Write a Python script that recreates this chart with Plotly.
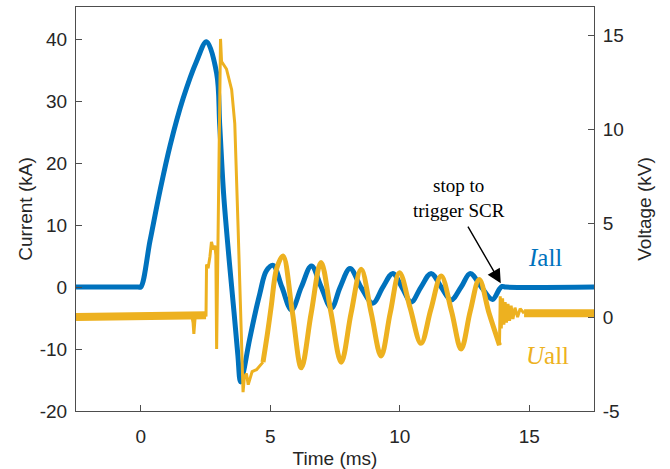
import plotly.graph_objects as go

# ---------------- data ----------------
# Current I_all (kA), left axis
i_time = [-2.5, -0.1, 0.0, 0.36, 0.74, 1.13, 1.64, 2.16, 2.54, 2.93, 3.05, 3.2, 3.4,
          3.6, 3.75, 3.85, 3.95, 4.2, 4.6, 4.85, 5.11, 5.45, 5.82, 6.2, 6.59, 6.97,
          7.36, 7.7, 8.08, 8.5, 8.96, 9.35, 9.73, 10.08, 10.44, 10.82, 11.21, 11.6,
          11.98, 12.37, 12.72, 13.15, 13.58, 13.85, 13.95, 14.1, 17.5]
i_vals = [0.0, 0.0, 0.0, 7.5, 15.5, 22.8, 30.5, 36.5, 39.6, 34.5, 26.0, 15.0, 5.0,
          -4.0, -11.0, -15.3, -14.0, -8.5, -1.0, 2.6, 3.5, 0.0, -3.7, 0.0, 3.4, 0.0,
          -3.4, 0.0, 3.0, 0.0, -2.6, 0.0, 2.2, 0.0, -2.4, 0.0, 2.2, 0.0,
          -2.1, 0.0, 2.2, 0.0, -2.0, -0.3, 0.1, 0.0, 0.0]

# Voltage U_all (kV), right axis -- noisy baseline before switching
u_base_time = [-2.5, 2.52]
u_base_vals = [0.0, 0.1]
# switching transient (incl. the small dip just before it)
u_pre_time = [1.98, 2.02, 2.05, 2.1, 2.52, 2.54, 2.6, 2.67, 2.73, 2.8, 2.86, 2.9,
              2.93, 3.08, 3.12, 3.31, 3.51, 3.63, 3.76, 3.89, 3.95, 4.0, 4.08, 4.15,
              4.21, 4.3, 4.47, 4.72]
u_pre_vals = [0.0, -0.3, -0.9, 0.0, 0.1, 2.8, 2.6, 3.2, 4.0, 3.6, 3.8, 3.3,
              -1.7, 14.8, 13.6, 13.2, 12.1, 10.3, 4.7, -1.5, -4.0, -3.2, -3.0, -3.6,
              -3.3, -2.9, -2.8, -2.4]
# oscillation part
u_osc_time = [4.72, 4.9, 5.04, 5.25, 5.49, 5.85, 6.2, 6.58, 6.96, 7.35, 7.74, 8.12,
              8.51, 8.9, 9.28, 9.63, 9.99, 10.4, 10.82, 11.2, 11.6, 12.0, 12.37,
              12.72, 13.07, 13.45, 13.85]
u_osc_vals = [-2.4, -0.8, 0.6, 2.6, 3.25, 0.3, -2.7, 0.2, 2.9, 0.2, -2.4, 0.2,
              2.54, 0.2, -2.07, 0.2, 2.36, 0.5, -1.4, 0.4, 2.18, 0.3, -1.7,
              0.3, 2.0, 0.2, -1.5]
# ringing after SCR trigger stops
u_ring_time = [13.85, 13.88, 13.92, 13.97, 14.02, 14.07, 14.12, 14.18, 14.24, 14.3,
               14.37, 14.45, 14.55, 14.65, 14.8]
u_ring_vals = [-1.5, 1.1, -0.6, 1.0, -0.4, 0.8, -0.3, 0.7, -0.2, 0.6,
               -0.1, 0.5, 0.0, 0.45, 0.2]
# baseline afterwards
u_tail_time = [14.8, 17.5]
u_tail_vals = [0.2, 0.2]

x_ticks = [0, 5, 10, 15]
x_labels = ["0", "5", "10", "15"]
y_left_ticks = [-20, -10, 0, 10, 20, 30, 40]
y_left_labels = ["-20", "-10", "0", "10", "20", "30", "40"]
y_right_ticks = [-5, 0, 5, 10, 15]
y_right_labels = ["-5", "0", "5", "10", "15"]

BLUE = "#0072BD"
ORANGE = "#EDB120"
AX = "#4d4d4d"
TXT = "#262626"
SANS = "Liberation Sans, Arial, sans-serif"
SERIF = "Liberation Serif, Times New Roman, serif"

fig = go.Figure()
fig.add_trace(go.Scatter(x=i_time, y=i_vals, mode="lines", yaxis="y",
                         line=dict(color=BLUE, width=5, shape="spline", smoothing=1.0),
                         showlegend=False))
fig.add_trace(go.Scatter(x=u_base_time, y=u_base_vals, mode="lines", yaxis="y2",
                         line=dict(color=ORANGE, width=8), showlegend=False))
fig.add_trace(go.Scatter(x=u_pre_time, y=u_pre_vals, mode="lines", yaxis="y2",
                         line=dict(color=ORANGE, width=3), showlegend=False))
fig.add_trace(go.Scatter(x=u_osc_time, y=u_osc_vals, mode="lines", yaxis="y2",
                         line=dict(color=ORANGE, width=5, shape="spline", smoothing=1.0),
                         showlegend=False))
fig.add_trace(go.Scatter(x=u_ring_time, y=u_ring_vals, mode="lines", yaxis="y2",
                         line=dict(color=ORANGE, width=3), showlegend=False))
fig.add_trace(go.Scatter(x=u_tail_time, y=u_tail_vals, mode="lines", yaxis="y2",
                         line=dict(color=ORANGE, width=8), showlegend=False))

axis_common = dict(showgrid=False, zeroline=False, showline=True, linecolor=AX,
                   linewidth=1, ticks="inside", ticklen=6, tickcolor=AX,
                   automargin=False,
                   tickfont=dict(family=SANS, size=19, color=TXT))

fig.update_layout(
    width=670, height=469,
    margin=dict(l=76, r=76, t=7, b=58),
    paper_bgcolor="white", plot_bgcolor="white",
    xaxis=dict(range=[-2.5, 17.5], tickvals=x_ticks, ticktext=x_labels, mirror=True,
               ticklabelstandoff=8,
               title=dict(text="Time (ms)", font=dict(family=SANS, size=19, color=TXT),
                          standoff=6),
               **axis_common),
    yaxis=dict(range=[-20, 45.2], tickvals=y_left_ticks, ticktext=y_left_labels,
               ticklabelstandoff=4,
               title=dict(text="Current (kA)", font=dict(family=SANS, size=19, color=TXT),
                          standoff=2),
               **axis_common),
    yaxis2=dict(range=[-5, 16.5], tickvals=y_right_ticks, ticktext=y_right_labels,
                overlaying="y", side="right", ticklabelstandoff=4,
                title=dict(text="Voltage (kV)", font=dict(family=SANS, size=19, color=TXT),
                           standoff=14),
                **axis_common),
)

fig.add_annotation(x=12.3, y=14.3, xref="x", yref="y", text="stop to<br>trigger SCR",
                   showarrow=False, font=dict(family=SERIF, size=19, color="black"))
fig.add_annotation(x=13.9, y=0.6, xref="x", yref="y", ax=12.6, ay=10.0,
                   axref="x", ayref="y", text="", showarrow=True,
                   arrowhead=2, arrowsize=2.0, arrowwidth=1.4, arrowcolor="black")
fig.add_annotation(x=15.6, y=4.8, xref="x", yref="y", text="<i>I</i>all",
                   showarrow=False, font=dict(family=SERIF, size=25, color=BLUE))
fig.add_annotation(x=15.7, y=-11.0, xref="x", yref="y", text="<i>U</i>all",
                   showarrow=False, font=dict(family=SERIF, size=25, color=ORANGE))

fig.write_html("out.html")
